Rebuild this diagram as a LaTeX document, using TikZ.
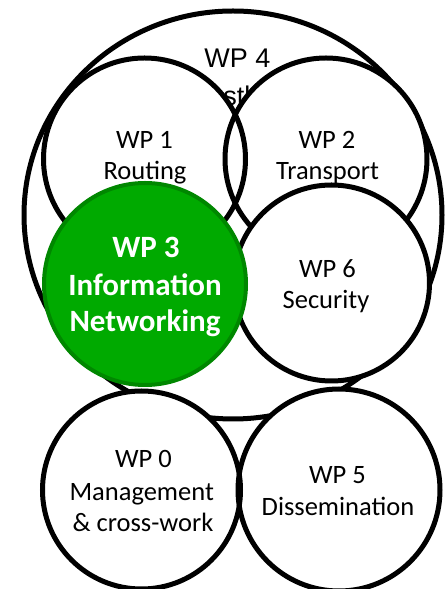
\documentclass[tikz,border=0pt]{standalone}
\usepackage{fontspec}
\setmainfont{Carlito}
\newfontfamily\arialf{Liberation Sans}
\usetikzlibrary{shapes.geometric}
\definecolor{wpgreen}{RGB}{0,170,0}
\definecolor{wpgreendark}{RGB}{0,135,0}
\tikzset{
  wpfill/.style={circle, inner sep=0pt, outer sep=0pt, fill=white, draw=none},
  wpline/.style={circle, inner sep=0pt, outer sep=0pt, draw=black, line width=5pt},
  wptxt/.style={anchor=base, inner sep=0pt, font=\fontsize{26.5}{31}\selectfont},
  wpbold/.style={anchor=base, inner sep=0pt, text=white, font=\fontsize{31}{37}\selectfont\bfseries},
  wpfour/.style={anchor=base, inner sep=0pt, font=\arialf\fontsize{27}{31}\selectfont}
}
\begin{document}
\begin{tikzpicture}[x=1pt,y=1pt]
\useasboundingbox (0,0) rectangle (445,589);
% WP4 big ellipse
\node[ellipse, inner sep=0pt, fill=white, draw=black, line width=5pt,
      minimum width=418, minimum height=408] (w4) at (233,374) {};
\node[wpfour] (t4a) at (237.5,521) {WP 4};
\node[wpfour] (t4b) at (242,483) {Testbed};
% WP1, WP2 fills then outlines
\node[wpfill, minimum size=202] (w1f) at (144.5,430) {};
\node[wpfill, minimum size=202] (w2f) at (326,430) {};
\node[wpline, minimum size=202] (w1) at (w1f.center) {};
\node[wpline, minimum size=202] (w2) at (w2f.center) {};
% WP6
\node[wpline, fill=white, minimum size=196] (w6) at (331.5,306) {};
% WP3
\node[circle, inner sep=0pt, fill=wpgreen, draw=wpgreendark, line width=4pt,
      minimum size=202] (w3) at (145,305) {};
% WP0, WP5 fills then outlines
\node[wpfill, minimum size=198] (w0f) at (141.5,99) {};
\node[wpfill, minimum size=202] (w5f) at (339,99) {};
\node[wpline, minimum size=198] (w0) at (w0f.center) {};
\node[wpline, minimum size=202] (w5) at (w5f.center) {};
% texts
\node[wptxt] (t1a) at (144.5,440) {WP 1};
\node[wptxt] (t1b) at (145,409) {Routing};
\node[wptxt] (t2a) at (327,440) {WP 2};
\node[wptxt] (t2b) at (327.5,409) {Transport};
\node[wpbold] (t3a) at (146,331.3) {WP 3};
\node[wpbold] (t3b) at (145,293) {Information};
\node[wpbold] (t3c) at (145,257.3) {Networking};
\node[wptxt] (t6a) at (327.5,311) {WP 6};
\node[wptxt] (t6b) at (326,280) {Security};
\node[wptxt] (t0a) at (143.5,121) {WP 0};
\node[wptxt] (t0b) at (141.7,88.3) {Management};
\node[wptxt] (t0c) at (143,57.3) {\& cross-work};
\node[wptxt] (t5a) at (337.5,105) {WP 5};
\node[wptxt] (t5b) at (338,73) {Dissemination};
\end{tikzpicture}
\end{document}
